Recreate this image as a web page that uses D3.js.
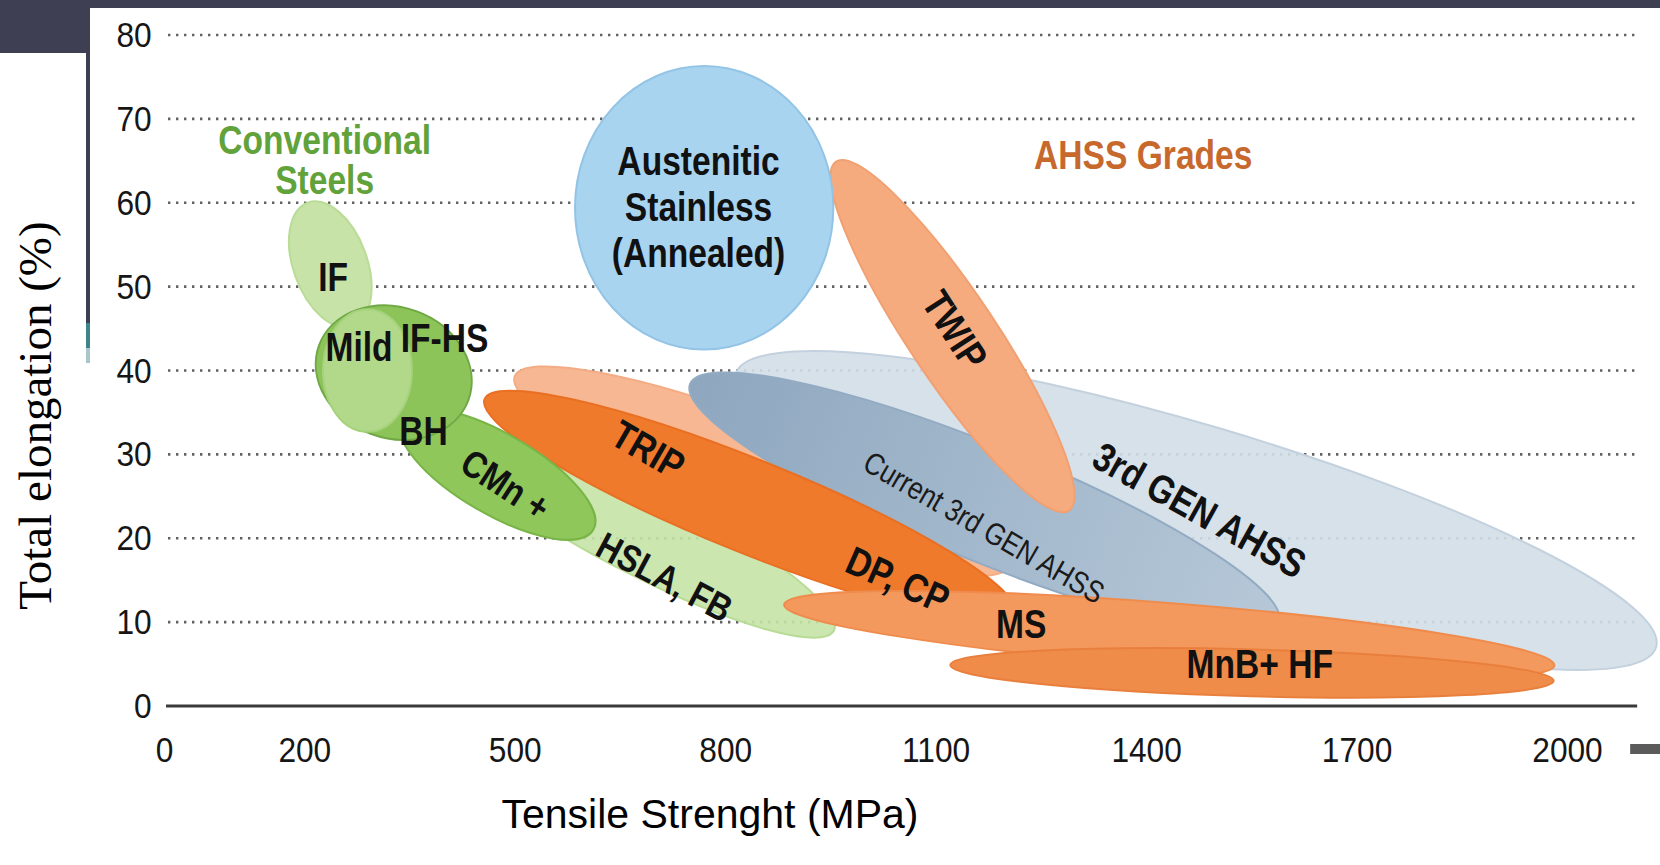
<!DOCTYPE html>
<html>
<head>
<meta charset="utf-8">
<script src="https://cdn.jsdelivr.net/npm/d3@7"></script>
<style>
  html, body { margin: 0; padding: 0; background: #ffffff; }
  svg { display: block; }
</style>
</head>
<body>
<svg id="chart" width="1660" height="865"></svg>
<script>
// Steel families mapped on tensile strength (MPa) vs total elongation (%)
const xTicks = [0, 200, 500, 800, 1100, 1400, 1700, 2000];
const yTicks = [0, 10, 20, 30, 40, 50, 60, 70, 80];

// Each family region: ends of its long axis (MPa, %) and its half-width in % elongation
// (listed back to front)
const families     = ["3rd GEN AHSS", "TRIP", "Current 3rd GEN AHSS", "TWIP", "HSLA, FB", "DP, CP",
                      "IF", "CMn +", "IF-HS", "Mild", "MS", "MnB+ HF", "Austenitic Stainless"];
const strengthFrom = [815, 500, 750, 958, 418, 457, 205, 338, 221, 290, 884, 1121, 770];
const elongFrom    = [39.6, 39.3, 38.4, 64.9, 31.9, 36.6, 60.0, 34.3, 43.0, 47.3, 12.1, 4.9, 76.3];
const strengthTo   = [2127, 1205, 1589, 1290, 955, 1212, 269, 612, 434, 290, 1982, 1981, 770];
const elongTo      = [7.0, 16.7, 10.0, 23.3, 9.0, 11.1, 45.3, 21.0, 36.5, 32.7, 4.85, 3.0, 42.5];
const halfWidth    = [10.2, 5.7, 6.9, 5.2, 5.05, 5.55, 4.4, 4.8, 7.8, 5.3, 3.8, 2.8, 15.4];

// Text labels placed at (MPa, %) positions
const labelText     = ["Conventional", "Steels", "AHSS Grades", "Austenitic", "Stainless", "(Annealed)",
                       "IF", "Mild", "IF-HS", "BH", "CMn +", "TRIP", "HSLA, FB", "DP, CP", "MS",
                       "MnB+ HF", "TWIP", "Current 3rd GEN AHSS", "3rd GEN AHSS"];
const labelStrength = [229, 229, 1396, 762, 762, 762, 241, 278, 400, 370, 487, 690, 714, 1046, 1222,
                       1562, 1127, 1169, 1476];
const labelElong    = [67.4, 62.7, 65.6, 64.9, 59.4, 53.9, 51.1, 42.8, 43.8, 32.7, 26.4, 30.5, 15.4, 15.0,
                       9.7, 4.9, 44.8, 21.3, 23.3];

// Appearance
const regionFill = {
  "3rd GEN AHSS": "#d3dee8",
  "Current 3rd GEN AHSS": "url(#currentGen)",
  "TWIP": "#f6ab7f",
  "HSLA, FB": "#c5e3a6",
  "TRIP": "#f7b793",
  "DP, CP": "#f07a2c",
  "IF": "#c7e3a7",
  "CMn +": "#8fc75b",
  "IF-HS": "#8cc45a",
  "Mild": "#b2d98a",
  "MS": "#f4995d",
  "MnB+ HF": "#f08c4a",
  "Austenitic Stainless": "#a8d4f0"
};
const regionEdge = {
  "3rd GEN AHSS": "#c3d1de",
  "Current 3rd GEN AHSS": "#93abc2",
  "TWIP": "#f1a071",
  "HSLA, FB": "#b8dc96",
  "TRIP": "#f4ac84",
  "DP, CP": "#e96f22",
  "IF": "#b9dc96",
  "CMn +": "#79b446",
  "IF-HS": "#6fa844",
  "Mild": "#a5d27b",
  "MS": "#ef8c4d",
  "MnB+ HF": "#e97f3c",
  "Austenitic Stainless": "#93c4e6"
};
const labelStyle = {
  "Conventional": { rot: 0, size: 40, color: "#62a23a", weight: "bold" },
  "Steels": { rot: 0, size: 40, color: "#62a23a", weight: "bold" },
  "AHSS Grades": { rot: 0, size: 40, color: "#c7682d", weight: "bold" },
  "Current 3rd GEN AHSS": { rot: 30, size: 31, color: "#1a1a1a", weight: "normal" },
  "3rd GEN AHSS": { rot: 29, size: 40, color: "#111111", weight: "bold" },
  "TWIP": { rot: 57, size: 40, color: "#111111", weight: "bold" },
  "CMn +": { rot: 33, size: 38, color: "#111111", weight: "bold" },
  "TRIP": { rot: 30, size: 40, color: "#111111", weight: "bold" },
  "HSLA, FB": { rot: 28, size: 38, color: "#111111", weight: "bold" },
  "DP, CP": { rot: 24, size: 40, color: "#111111", weight: "bold" }
};
const sans = "'Liberation Sans', Arial, sans-serif";
const labelSqueeze = 0.84;   // condensed lettering
const tickSqueeze = 0.88;

const W = 1660, H = 865;
const svg = d3.select("#chart");

const x = d3.scaleLinear().domain([0, 2000]).range([164, 1567]);
const y = d3.scaleLinear().domain([0, 80]).range([706, 35]);
const gridEndValue = 2100;

// Gradient for the current 3rd generation band (darker at its low-strength end)
const defs = svg.append("defs");
const grad = defs.append("linearGradient").attr("id", "currentGen")
  .attr("x1", 0).attr("y1", 0).attr("x2", 1).attr("y2", 0);
grad.append("stop").attr("offset", 0).attr("stop-color", "#8ea7bf");
grad.append("stop").attr("offset", 1).attr("stop-color", "#b6c8d8");

// Slide frame: dark header strip, corner block and side rule
const frame = svg.append("g");
frame.append("rect").attr("x", 0).attr("y", 0).attr("width", W).attr("height", 8).attr("fill", "#3f3f54");
frame.append("rect").attr("x", 0).attr("y", 0).attr("width", 86).attr("height", 53).attr("fill", "#3f3f54");
frame.append("rect").attr("x", 86).attr("y", 0).attr("width", 4).attr("height", 323).attr("fill", "#3f3f54");
frame.append("rect").attr("x", 86).attr("y", 323).attr("width", 4).attr("height", 25).attr("fill", "#3e8589");
frame.append("rect").attr("x", 86).attr("y", 348).attr("width", 4).attr("height", 15).attr("fill", "#a9c7cb");

// Dotted horizontal gridlines
svg.append("g").selectAll("line")
  .data(yTicks.filter(v => v > 0))
  .join("line")
  .attr("x1", x(0) + 4).attr("x2", x(gridEndValue))
  .attr("y1", d => y(d)).attr("y2", d => y(d))
  .attr("stroke", "#616161")
  .attr("stroke-width", 2.6)
  .attr("stroke-dasharray", "2.4 5.6");

// Family regions as rotated ellipses
const pxPerPct = y(0) - y(1);
const regions = families.map((name, i) => {
  const x1 = x(strengthFrom[i]), y1 = y(elongFrom[i]);
  const x2 = x(strengthTo[i]), y2 = y(elongTo[i]);
  return {
    name,
    cx: (x1 + x2) / 2,
    cy: (y1 + y2) / 2,
    rx: Math.hypot(x2 - x1, y2 - y1) / 2,
    ry: halfWidth[i] * pxPerPct,
    angle: Math.atan2(y2 - y1, x2 - x1) * 180 / Math.PI
  };
});

svg.append("g").selectAll("ellipse")
  .data(regions)
  .join("ellipse")
  .attr("transform", d => `translate(${d.cx},${d.cy}) rotate(${d.angle})`)
  .attr("rx", d => d.rx)
  .attr("ry", d => d.ry)
  .attr("fill", d => regionFill[d.name])
  .attr("fill-opacity", d => (d.name === "3rd GEN AHSS" || d.name === "HSLA, FB") ? 0.9 : 1)
  .attr("stroke", d => regionEdge[d.name])
  .attr("stroke-width", 2);

// Baseline at zero strain
svg.append("line")
  .attr("x1", x(0) + 2).attr("x2", x(gridEndValue))
  .attr("y1", y(0)).attr("y2", y(0))
  .attr("stroke", "#3a3a3a").attr("stroke-width", 3);

// Y axis labels
const yAxis = svg.append("g")
  .attr("transform", `translate(${x(0)},0)`)
  .call(d3.axisLeft(y).tickValues(yTicks).tickSize(0).tickPadding(14));
yAxis.select(".domain").remove();
yAxis.selectAll("text")
  .attr("font-family", sans).attr("font-size", 36).attr("fill", "#161616")
  .attr("transform", `scale(${tickSqueeze},1)`);

// X axis labels
const xAxis = svg.append("g")
  .attr("transform", `translate(0,${y(0)})`)
  .call(d3.axisBottom(x).tickValues(xTicks).tickFormat(d3.format("d")).tickSize(0).tickPadding(30));
xAxis.select(".domain").remove();
xAxis.selectAll(".tick text")
  .attr("font-family", sans).attr("font-size", 36).attr("fill", "#161616")
  .attr("transform", `scale(${tickSqueeze},1)`);

// Small end marker to the right of the axis labels
svg.append("rect")
  .attr("x", x(gridEndValue) - 7).attr("y", y(0) + 38)
  .attr("width", W - x(gridEndValue) + 7).attr("height", 10)
  .attr("fill", "#5b5b5b");

// Region labels
svg.append("g").selectAll("text")
  .data(labelText.map((t, i) => ({ t, sx: labelStrength[i], ey: labelElong[i] })))
  .join("text")
  .attr("transform", d => {
    const s = labelStyle[d.t] || {};
    return `translate(${x(d.sx)},${y(d.ey)}) rotate(${s.rot || 0}) scale(${labelSqueeze},1)`;
  })
  .attr("text-anchor", "middle")
  .attr("dominant-baseline", "central")
  .attr("font-family", sans)
  .attr("font-weight", d => (labelStyle[d.t] || {}).weight || "bold")
  .attr("font-size", d => (labelStyle[d.t] || {}).size || 40)
  .attr("fill", d => (labelStyle[d.t] || {}).color || "#111111")
  .text(d => d.t);

// Axis titles
svg.append("text")
  .attr("transform", `translate(51,${(y(0) + y(80)) / 2 + 45}) rotate(-90)`)
  .attr("text-anchor", "middle")
  .attr("font-family", "'Liberation Serif', 'Times New Roman', serif")
  .attr("font-size", 47)
  .attr("fill", "#000")
  .text("Total elongation (%)");

svg.append("text")
  .attr("x", 710).attr("y", 828)
  .attr("text-anchor", "middle")
  .attr("font-family", sans)
  .attr("font-size", 41)
  .attr("fill", "#000")
  .text("Tensile Strenght (MPa)");
</script>
</body>
</html>
